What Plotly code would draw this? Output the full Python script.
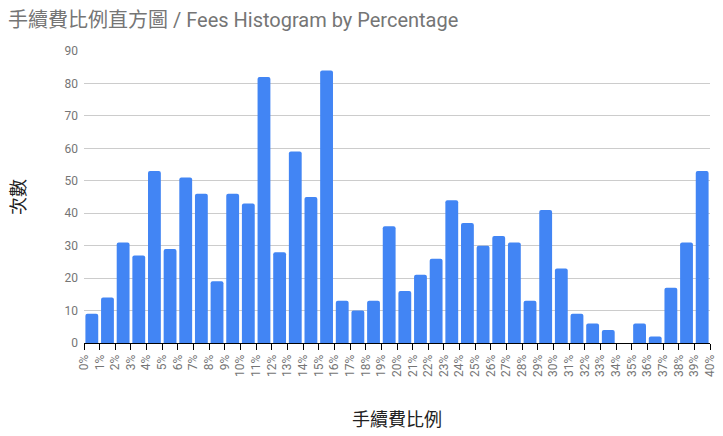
import plotly.graph_objects as go

# histogram bins: left edge of each 1% bin, and counts
bin_left = list(range(40))
counts = [9, 14, 31, 27, 53, 29, 51, 46, 19, 46,
          43, 82, 28, 59, 45, 84, 13, 10, 13, 36,
          16, 21, 26, 44, 37, 30, 33, 31, 13, 41,
          23, 9, 6, 4, 0, 6, 2, 17, 31, 53]
tick_vals = list(range(41))
tick_text = [f"{v}%" for v in tick_vals]
y_ticks = list(range(0, 100, 10))

FONT = "Roboto, 'Noto Sans CJK TC', sans-serif"
GRAY = "#757575"

fig = go.Figure(go.Bar(
    x=[b + 0.5 for b in bin_left],
    y=counts,
    width=0.82,
    marker=dict(color="#4285F4", cornerradius=2, line=dict(width=0)),
    hovertemplate="%{y}<extra></extra>",
))

# page body has an 8px margin, so the figure is 8px smaller than the window
fig.update_layout(
    width=715, height=428,
    margin=dict(l=76, r=13, t=43, b=93),
    paper_bgcolor="white", plot_bgcolor="white",
    font=dict(family=FONT, color=GRAY, size=12),
    title=dict(text="手續費比例直方圖 / Fees Histogram by Percentage",
               x=0, xanchor="left", y=1 - 12 / 428, yanchor="middle",
               font=dict(size=20, color=GRAY)),
    showlegend=False,
)

fig.update_xaxes(
    range=[0, 40], tickvals=tick_vals, ticktext=tick_text, tickangle=-90,
    ticks="outside", ticklen=6, tickcolor="black", showgrid=False,
    showline=True, linecolor="black", linewidth=1,
    tickfont=dict(size=12, color=GRAY),
    title=dict(text="手續費比例", standoff=37, font=dict(size=18, color="#222222")),
    automargin=False,
)
fig.update_yaxes(
    range=[0, 90], tickvals=y_ticks, showgrid=True, gridcolor="#cccccc",
    zeroline=False, ticks="", ticklabelstandoff=5,
    tickfont=dict(size=12, color=GRAY),
    title=dict(text="次數", standoff=35, font=dict(size=18, color="#222222")),
    automargin=False,
)

# ticks also poke a little above the baseline
fig.update_layout(xaxis2=dict(
    overlaying="x", anchor="y", side="bottom", range=[0, 40],
    tickvals=tick_vals, ticks="inside", ticklen=5, tickcolor="black",
    showticklabels=False, showgrid=False, zeroline=False, showline=False,
))

fig.write_html("out.html")
